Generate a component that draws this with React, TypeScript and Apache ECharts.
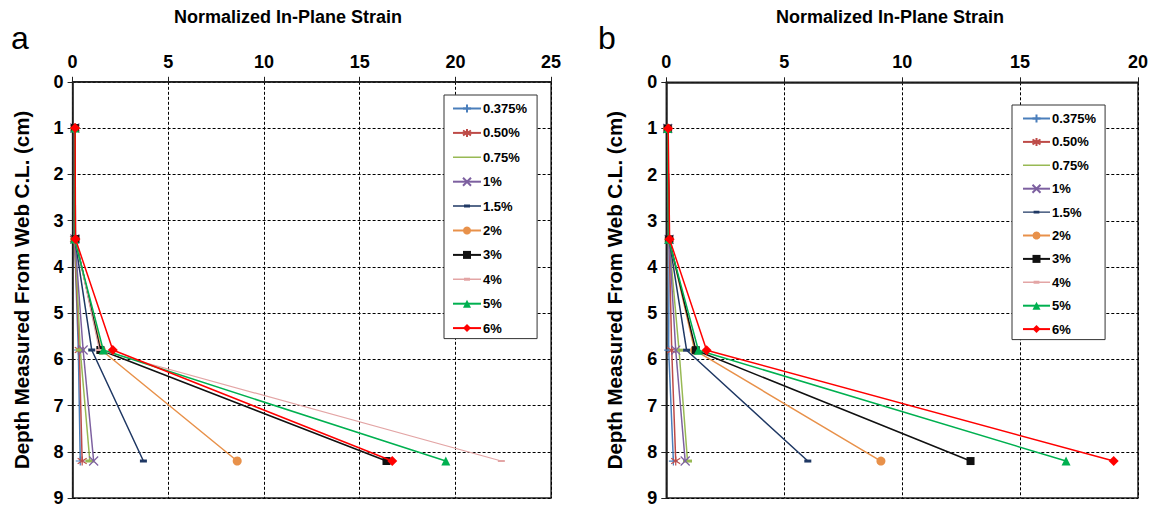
import React, { useEffect, useRef } from "react";
import * as echarts from "echarts";

const depths = [1, 3.4, 5.8, 8.2];
const seriesNames = ["0.375%", "0.50%", "0.75%", "1%", "1.5%", "2%", "3%", "4%", "5%", "6%"];
const xTicksA = [0, 5, 10, 15, 20, 25];
const xTicksB = [0, 5, 10, 15, 20];

// Panel a strains (per depth)
const a0375 = [0.12, 0.1, 0.3, 0.4];
const a050 = [0.12, 0.1, 0.35, 0.5];
const a075 = [0.12, 0.12, 0.4, 0.9];
const a1 = [0.12, 0.12, 0.55, 1.1];
const a15 = [0.12, 0.12, 1.0, 3.7];
const a2 = [0.12, 0.12, 1.5, 8.6];
const a3 = [0.12, 0.15, 1.45, 16.4];
const a4 = [0.12, 0.15, 1.4, 22.4];
const a5 = [0.12, 0.1, 1.6, 19.5];
const a6 = [0.13, 0.15, 2.1, 16.7];

// Panel b strains (per depth)
const b0375 = [0.06, 0.12, 0.1, 0.3];
const b050 = [0.06, 0.12, 0.23, 0.4];
const b075 = [0.06, 0.12, 0.54, 0.9];
const b1 = [0.06, 0.12, 0.4, 0.8];
const b15 = [0.06, 0.12, 0.86, 6.0];
const b2 = [0.06, 0.12, 1.2, 9.1];
const b3 = [0.06, 0.12, 1.25, 12.9];
const b4: number[] = [];
const b5 = [0.06, 0.1, 1.36, 16.95];
const b6 = [0.08, 0.14, 1.71, 18.97];

const colors = ["#4a7ebb", "#be4b48", "#98b954", "#7d60a0", "#1f3864", "#e8914a", "#111111", "#e3a5a5", "#00b050", "#ff0000"];
const symbols = [
  "path://M5,0L5,10M0,5L10,5",
  "path://M5,0L5,10M1,2L9,8M9,2L1,8",
  "rect",
  "path://M0,0L10,10M10,0L0,10",
  "rect",
  "circle",
  "rect",
  "rect",
  "triangle",
  "diamond",
];
const symbolSizes: any[] = [9, 9, [9, 3], 9, [7, 3], 9, 8, [7, 2], 9, 10];

// legend icons (line + marker) drawn in a 28x10 box
const LINE_ONLY = "path://M0,0L0,0ZM0,4.25L28,4.25L28,5.75L0,5.75ZM28,10L28,10Z";
const LINE_DASH = "path://M0,0L0,0ZM0,4.25L28,4.25L28,5.75L0,5.75ZM11,3.5L17,3.5L17,6.5L11,6.5ZM28,10L28,10Z";
const legendIcons: (string | null)[] = [null, null, LINE_ONLY, null, LINE_DASH, null, null, LINE_DASH, null, null];

const panelA = [a0375, a050, a075, a1, a15, a2, a3, a4, a5, a6];
const panelB = [b0375, b050, b075, b1, b15, b2, b3, b4, b5, b6];

const FONT = "Liberation Sans";

function makeSeries(vals: number[][], axisIndex: number) {
  return vals.map((v, i) => ({
    name: seriesNames[i],
    type: "line",
    xAxisIndex: axisIndex,
    yAxisIndex: axisIndex,
    data: v.map((x, k) => [x, depths[k]]),
    symbol: symbols[i],
    symbolSize: symbolSizes[i],
    showAllSymbol: true,
    lineStyle: { color: colors[i], width: i === 7 ? 1.2 : 1.5 },
    itemStyle: { color: colors[i], borderColor: colors[i], borderWidth: i < 2 || i === 3 ? 1.2 : 0 },
    emphasis: { disabled: true },
    z: 3 + i,
  }));
}

function xAxis(gridIndex: number, max: number, ticks: number[]) {
  return {
    type: "value",
    gridIndex,
    position: "top",
    min: 0,
    max,
    interval: 5,
    axisLine: { show: true, onZero: false, lineStyle: { color: "#222", width: 1.5 } },
    axisTick: { show: true, inside: false, length: 5, lineStyle: { color: "#222" } },
    axisLabel: { margin: 11, fontSize: 18, fontWeight: "bold", color: "#000", fontFamily: FONT, customValues: ticks },
    splitLine: { show: true, lineStyle: { color: "#000", type: [3, 2], width: 1 } },
  };
}

function yAxis(gridIndex: number) {
  return {
    type: "value",
    gridIndex,
    inverse: true,
    min: 0,
    max: 9,
    interval: 1,
    name: "Depth Measured From Web C.L. (cm)",
    nameLocation: "middle",
    nameGap: 41,
    nameTextStyle: { fontSize: 20.5, fontWeight: "bold", color: "#000", fontFamily: FONT },
    axisLine: { show: true, onZero: false, lineStyle: { color: "#222", width: 1.5 } },
    axisTick: { show: true, inside: false, length: 5, lineStyle: { color: "#222" } },
    axisLabel: { margin: 9, fontSize: 18, fontWeight: "bold", color: "#000", fontFamily: FONT },
    splitLine: { show: true, lineStyle: { color: "#000", type: [3, 2], width: 1 } },
  };
}

function legend(left: number, top: number, pad: number[], itemGap: number, itemWidth: number) {
  return {
    orient: "vertical",
    left,
    top,
    data: seriesNames.map((n, i) => (legendIcons[i] ? { name: n, icon: legendIcons[i] } : { name: n })),
    itemWidth,
    itemHeight: 10,
    itemGap,
    padding: pad,
    backgroundColor: "#fff",
    borderColor: "#333",
    borderWidth: 1,
    selectedMode: false,
    textStyle: { fontSize: 13, fontWeight: "bold", color: "#000", fontFamily: FONT, padding: [0, 0, 0, -3] },
  };
}

export default function App() {
  const ref = useRef<HTMLDivElement>(null);
  useEffect(() => {
    if (!ref.current) return;
    const chart = echarts.init(ref.current, null, { renderer: "svg" });
    const titleStyle = { fontSize: 18, fontWeight: "bold", color: "#000", fontFamily: FONT };
    chart.setOption({
      animation: false,
      backgroundColor: "#fff",
      textStyle: { fontFamily: FONT },
      title: [
        { text: "Normalized In-Plane Strain", left: 288, top: 8, textAlign: "center", padding: 0, textStyle: titleStyle },
        { text: "Normalized In-Plane Strain", left: 890, top: 8, textAlign: "center", padding: 0, textStyle: titleStyle },
        { text: "a", left: 11, top: 22, padding: 0, textStyle: { fontSize: 32, fontWeight: "normal", color: "#000", fontFamily: FONT } },
        { text: "b", left: 598, top: 22, padding: 0, textStyle: { fontSize: 32, fontWeight: "normal", color: "#000", fontFamily: FONT } },
      ],
      grid: [
        { left: 72.6, top: 81.8, width: 478.5, height: 420, show: true, borderColor: "#222", borderWidth: 1.5, backgroundColor: "#fff", containLabel: false },
        { left: 666.3, top: 82.3, width: 472, height: 422, show: true, borderColor: "#222", borderWidth: 1.5, backgroundColor: "#fff", containLabel: false },
      ],
      xAxis: [xAxis(0, 25, xTicksA), xAxis(1, 20, xTicksB)],
      yAxis: [yAxis(0), yAxis(1)],
      legend: [
        legend(444, 95, [7, 10, 4, 8], 11.4, 28),
        legend(1012, 105, [7, 9, 4, 10], 10.4, 27),
      ],
      series: [...makeSeries(panelA, 0), ...makeSeries(panelB, 1)],
    });
    return () => chart.dispose();
  }, []);
  return <div ref={ref} style={{ position: "absolute", left: 0, top: 0, width: 1151, height: 507 }} />;
}
